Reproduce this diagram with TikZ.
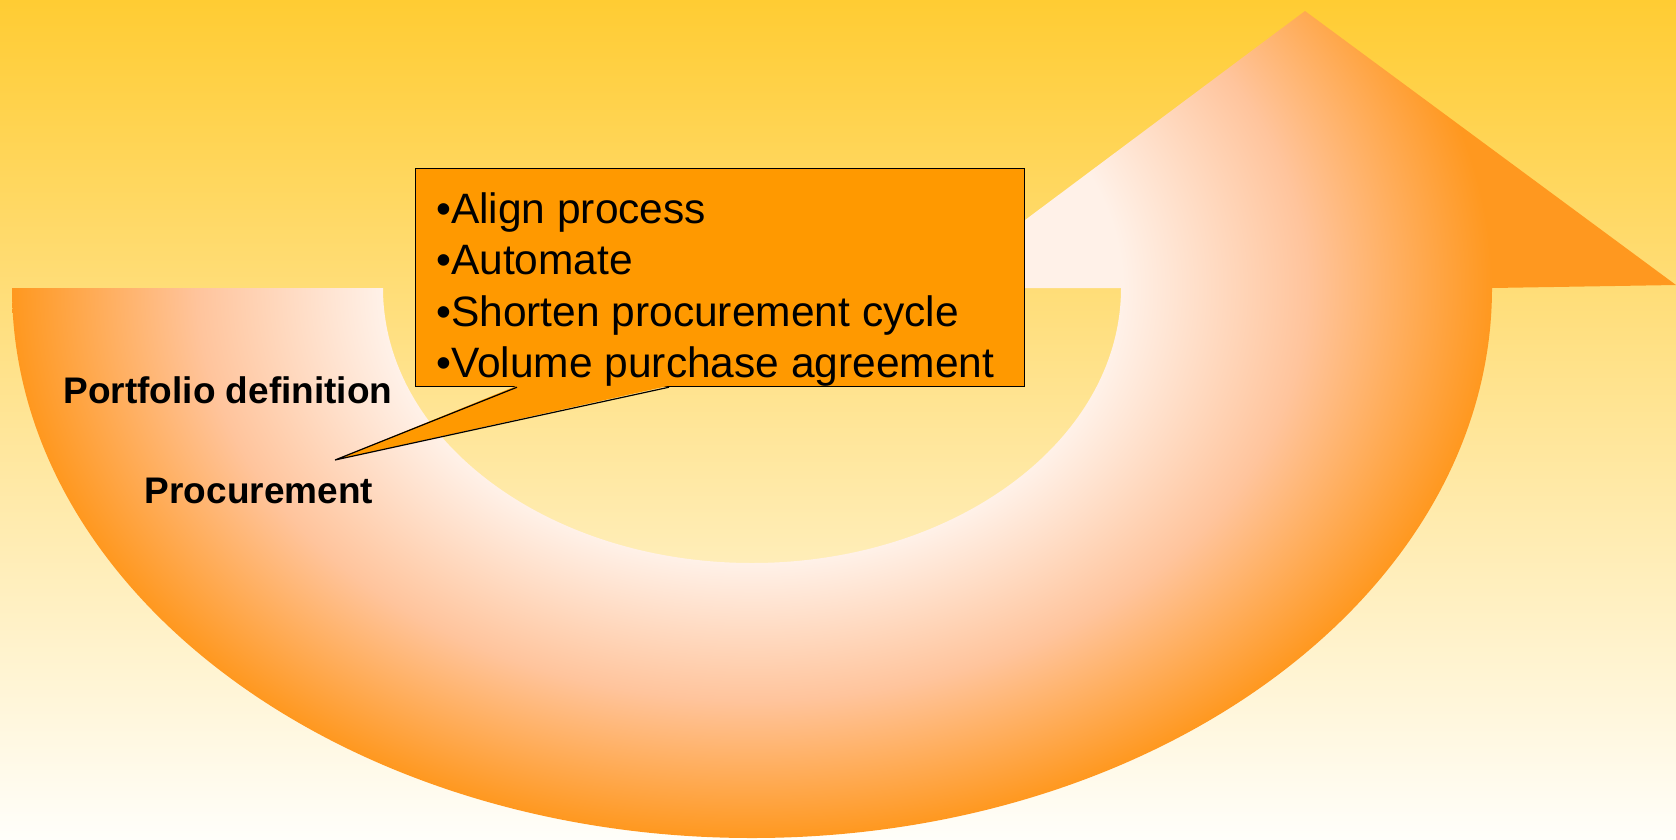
\documentclass[tikz,border=0pt]{standalone}
\usepackage{fontspec}
\setmainfont{Liberation Sans}
\usetikzlibrary{calc}
\definecolor{bgtop}{HTML}{FFCC33}
\definecolor{bgmid}{HTML}{FFEBB8}
\definecolor{bgbot}{HTML}{FFFEFA}
\definecolor{ringwhite}{HTML}{FFF1E8}
\definecolor{ringmid}{HTML}{FFC49C}
\definecolor{ringorange}{HTML}{FF981F}
\definecolor{boxorange}{HTML}{FF9900}
\pgfdeclareradialshading{ringshade}{\pgfpoint{0bp}{0bp}}{color(0bp)=(ringwhite); color(6.25bp)=(ringwhite); color(9.375bp)=(ringmid); color(12.5bp)=(ringorange); color(50bp)=(ringorange)}
\tikzset{
  calloutbox/.style={draw=black, line width=1.2pt, fill=boxorange, inner sep=0pt},
  outline/.style={draw=black, line width=1.2pt, line join=miter},
  bullettext/.style={align=left, inner sep=0pt, font=\fontsize{42.5}{51.5}\selectfont},
  labeltext/.style={inner sep=0pt, font=\fontsize{37}{40}\selectfont\bfseries}
}
\begin{document}
\begin{tikzpicture}[x=1pt,y=1pt]
\useasboundingbox (0,0) rectangle (1676,-839);
\shade[top color=bgtop, middle color=bgmid, bottom color=bgbot] (0,0) rectangle (1676,-839);
% U-turn arrow
\coordinate (C) at (752,-288);
\begin{scope}
\clip (12,-288) arc[start angle=180,end angle=360,x radius=740,y radius=550]
  -- (1676,-285) -- (1305,-11) -- (934,-288) -- (1121,-288)
  arc[start angle=0,end angle=-180,x radius=369,y radius=275] -- cycle;
\shade[shading=ringshade] ($(C)+(-1480,-1100)$) rectangle ($(C)+(1480,1100)$);
\end{scope}
% callout
\node[calloutbox, anchor=north west, minimum width=609pt, minimum height=218pt] (box) at (415,-168) {};
\coordinate (tip) at (335,-460);
\fill[boxorange] ([xshift=102pt,yshift=1.5pt]box.south west) -- (tip) -- ([xshift=254pt,yshift=1.5pt]box.south west) -- cycle;
\draw[outline] ([xshift=102pt]box.south west) -- (tip) -- ([xshift=254pt]box.south west);
\node[bullettext, anchor=north west] (boxtext) at ([xshift=21pt,yshift=-24pt]box.north west)
  {•Align process\\•Automate\\•Shorten procurement cycle\\•Volume purchase agreement};
% labels
\node[labeltext] (pd) at (228,-390) {Portfolio definition};
\node[labeltext] (proc) at (259,-491) {Procurement};
\end{tikzpicture}
\end{document}
